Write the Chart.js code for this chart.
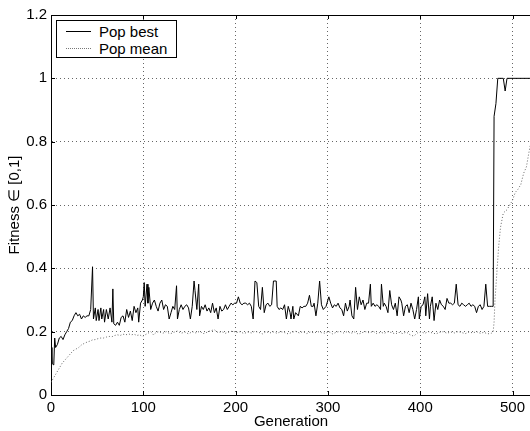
<!DOCTYPE html>
<html>
<head>
<meta charset="utf-8">
<title>Fitness per generation</title>
<script src="https://cdn.jsdelivr.net/npm/chart.js@4.4.1/dist/chart.umd.min.js"></script>
<style>
  html, body { margin: 0; padding: 0; overflow: hidden; background: #fff; }
  #wrap { position: relative; width: 541px; height: 431px; }
  #legend {
    position: absolute; left: 56px; top: 20px; width: 119px; height: 36px;
    border: 1px solid #000; background: #fff;
    font: 15px "Liberation Sans", Arial, sans-serif; color: #000;
  }
  .row { position: absolute; left: 0; height: 17px; line-height: 17px; }
  .row span { position: absolute; left: 42px; white-space: nowrap; }
  .row i { position: absolute; left: 9px; top: 8px; width: 25px; height: 0; }
  .solid { border-top: 1px solid #000; }
  .dots { border-top: 1px dotted #777; }
</style>
</head>
<body>
<div id="wrap">
  <canvas id="fitnessChart" width="541" height="431"></canvas>
  <div id="legend">
    <div class="row" style="top:2px"><i class="solid"></i><span>Pop best</span></div>
    <div class="row" style="top:19px"><i class="dots"></i><span>Pop mean</span></div>
  </div>
</div>
<script>
// tick positions
const xTicks = [0, 100, 200, 300, 400, 500];
const yTicks = [0, 0.2, 0.4, 0.6, 0.8, 1, 1.2];

// best individual per generation
const bestGen = [
  0, 1, 3, 4, 5, 7, 9, 11, 13, 15,
  17, 19, 21, 23, 25, 27, 29, 31, 33, 35,
  37, 39, 41, 43, 45, 46, 48, 49, 51, 52,
  54, 55, 57, 58, 60, 62, 64, 66, 67, 68,
  70, 72, 74, 76, 78, 80, 82, 84, 86, 88,
  90, 92, 94, 95, 97, 99, 100, 101, 102, 104,
  105, 106, 108, 110, 112, 114, 116, 118, 120, 122,
  124, 126, 128, 130, 132, 134, 136, 137, 139, 141,
  143, 145, 147, 149, 151, 153, 155, 156, 158, 160,
  161, 163, 165, 167, 169, 171, 173, 175, 177, 179,
  181, 183, 185, 187, 189, 191, 193, 195, 197, 199,
  201, 203, 205, 207, 209, 211, 213, 215, 217, 219,
  221, 223, 225, 227, 229, 231, 233, 235, 237, 239,
  241, 244, 245, 247, 249, 251, 253, 255, 257, 259,
  260, 262, 263, 265, 268, 270, 272, 274, 276, 278,
  280, 282, 284, 285, 287, 289, 291, 293, 295, 298,
  301, 303, 305, 307, 309, 311, 313, 315, 317, 319,
  321, 323, 324, 326, 328, 330, 332, 334, 336, 338,
  340, 342, 344, 346, 347, 349, 351, 353, 355, 357,
  358, 360, 361, 363, 365, 367, 369, 371, 373, 375,
  377, 379, 380, 382, 384, 386, 388, 390, 392, 394,
  396, 398, 399, 401, 403, 405, 406, 408, 410, 411,
  413, 415, 417, 419, 421, 423, 425, 427, 429, 431,
  433, 435, 437, 439, 441, 443, 445, 447, 449, 451,
  453, 455, 457, 459, 461, 463, 465, 467, 469, 471,
  473, 475, 477, 479, 480, 482, 484, 490, 492, 494,
  520
];
const bestFit = [
  0.15, 0.10, 0.095, 0.18, 0.15, 0.16, 0.18, 0.185, 0.175, 0.19,
  0.20, 0.21, 0.23, 0.235, 0.25, 0.26, 0.25, 0.255, 0.24, 0.25,
  0.245, 0.25, 0.25, 0.27, 0.405, 0.24, 0.275, 0.235, 0.27, 0.235,
  0.275, 0.24, 0.27, 0.23, 0.27, 0.24, 0.275, 0.23, 0.335, 0.225,
  0.22, 0.23, 0.22, 0.245, 0.25, 0.23, 0.27, 0.245, 0.265, 0.235,
  0.28, 0.26, 0.275, 0.23, 0.29, 0.30, 0.31, 0.355, 0.28, 0.35,
  0.29, 0.34, 0.27, 0.29, 0.30, 0.28, 0.265, 0.29, 0.30, 0.27,
  0.285, 0.28, 0.24, 0.26, 0.28, 0.27, 0.345, 0.24, 0.27, 0.285,
  0.27, 0.28, 0.285, 0.275, 0.24, 0.28, 0.36, 0.33, 0.27, 0.35,
  0.25, 0.28, 0.27, 0.285, 0.265, 0.275, 0.26, 0.29, 0.26, 0.275,
  0.24, 0.28, 0.265, 0.27, 0.285, 0.27, 0.28, 0.29, 0.285, 0.29,
  0.29, 0.31, 0.29, 0.285, 0.29, 0.29, 0.285, 0.29, 0.28, 0.24,
  0.36, 0.355, 0.28, 0.27, 0.34, 0.26, 0.285, 0.29, 0.28, 0.285,
  0.36, 0.36, 0.28, 0.27, 0.275, 0.27, 0.285, 0.24, 0.28, 0.26,
  0.24, 0.28, 0.24, 0.26, 0.25, 0.28, 0.275, 0.28, 0.28, 0.29,
  0.315, 0.28, 0.28, 0.29, 0.25, 0.29, 0.36, 0.285, 0.27, 0.28,
  0.31, 0.29, 0.275, 0.285, 0.28, 0.29, 0.275, 0.27, 0.25, 0.29,
  0.265, 0.28, 0.30, 0.25, 0.24, 0.34, 0.27, 0.31, 0.285, 0.30,
  0.27, 0.29, 0.29, 0.35, 0.28, 0.29, 0.28, 0.285, 0.28, 0.27,
  0.35, 0.28, 0.29, 0.28, 0.26, 0.33, 0.285, 0.27, 0.29, 0.25,
  0.31, 0.30, 0.29, 0.25, 0.28, 0.285, 0.26, 0.29, 0.27, 0.24,
  0.27, 0.31, 0.24, 0.28, 0.285, 0.31, 0.25, 0.32, 0.24, 0.28,
  0.31, 0.235, 0.29, 0.27, 0.30, 0.285, 0.28, 0.27, 0.305, 0.29,
  0.29, 0.285, 0.29, 0.35, 0.285, 0.28, 0.29, 0.285, 0.28, 0.285,
  0.29, 0.28, 0.285, 0.28, 0.26, 0.28, 0.285, 0.27, 0.28, 0.35,
  0.28, 0.28, 0.28, 0.28, 0.88, 0.92, 1.0, 1.0, 0.96, 1.0,
  1.0
];

// population mean per generation
const meanGen = [
  0, 3, 6, 9, 12, 15, 18, 21, 24, 27,
  30, 33, 36, 39, 42, 45, 48, 51, 54, 57,
  60, 63, 66, 69, 72, 75, 78, 81, 84, 87,
  90, 93, 96, 99, 102, 105, 108, 111, 114, 117,
  121, 125, 129, 133, 137, 141, 145, 149, 153, 157,
  161, 165, 169, 173, 177, 181, 185, 189, 193, 197,
  201, 205, 209, 213, 217, 221, 225, 229, 233, 237,
  241, 245, 249, 253, 257, 261, 265, 269, 273, 277,
  281, 285, 289, 293, 297, 301, 305, 309, 313, 317,
  321, 325, 329, 333, 337, 341, 345, 349, 353, 357,
  361, 365, 369, 373, 377, 381, 385, 389, 393, 397,
  401, 405, 409, 413, 417, 421, 425, 429, 433, 437,
  441, 445, 449, 453, 457, 461, 465, 469, 473, 477,
  479, 480, 481, 483, 485, 487, 490, 494, 497, 500,
  503, 506, 509, 512, 515, 518, 520
];
const meanFit = [
  0.04, 0.055, 0.07, 0.085, 0.10, 0.11, 0.12, 0.13, 0.14, 0.145,
  0.15, 0.158, 0.163, 0.167, 0.17, 0.174, 0.175, 0.178, 0.18, 0.18,
  0.183, 0.185, 0.184, 0.188, 0.19, 0.188, 0.192, 0.19, 0.193, 0.19,
  0.192, 0.188, 0.19, 0.185, 0.19, 0.195, 0.20, 0.19, 0.198, 0.20,
  0.195, 0.20, 0.193, 0.198, 0.202, 0.195, 0.199, 0.193, 0.2, 0.196,
  0.201, 0.194, 0.198, 0.203, 0.206, 0.197, 0.2, 0.195, 0.199, 0.202,
  0.197, 0.2, 0.194, 0.199, 0.196, 0.201, 0.198, 0.193, 0.2, 0.196,
  0.199, 0.195, 0.2, 0.197, 0.193, 0.198, 0.201, 0.196, 0.2, 0.194,
  0.199, 0.196, 0.2, 0.197, 0.195, 0.2, 0.193, 0.198, 0.201, 0.196,
  0.2, 0.195, 0.199, 0.192, 0.197, 0.2, 0.196, 0.201, 0.194, 0.198,
  0.195, 0.2, 0.197, 0.193, 0.198, 0.194, 0.199, 0.19, 0.186, 0.196,
  0.199, 0.195, 0.2, 0.196, 0.193, 0.198, 0.2, 0.195, 0.199, 0.196,
  0.2, 0.197, 0.194, 0.199, 0.196, 0.2, 0.195, 0.198, 0.193, 0.195,
  0.2, 0.23, 0.30, 0.385, 0.47, 0.53, 0.575, 0.585, 0.60, 0.615,
  0.64, 0.65, 0.665, 0.70, 0.72, 0.77, 0.80
];

const FONT = { family: '"Liberation Sans", Arial, Helvetica, sans-serif', size: 15 };

// top border of the box plus the small inward tick marks
const boxFrame = {
  id: 'boxFrame',
  afterDatasetsDraw(chart) {
    const { ctx, chartArea: a, scales: { x, y } } = chart;
    ctx.save();
    ctx.strokeStyle = '#000';
    ctx.lineWidth = 1;
    ctx.beginPath();
    ctx.moveTo(a.left, Math.round(a.top) + 0.5);
    ctx.lineTo(a.right + 20, Math.round(a.top) + 0.5);
    xTicks.forEach(v => {
      const px = Math.round(x.getPixelForValue(v)) + 0.5;
      ctx.moveTo(px, a.bottom); ctx.lineTo(px, a.bottom - 4);
      ctx.moveTo(px, a.top); ctx.lineTo(px, a.top + 4);
    });
    yTicks.forEach(v => {
      const py = Math.round(y.getPixelForValue(v)) + 0.5;
      ctx.moveTo(a.left, py); ctx.lineTo(a.left + 4, py);
    });
    ctx.stroke();
    ctx.restore();
  }
};

const ctx = document.getElementById('fitnessChart').getContext('2d');

new Chart(ctx, {
  type: 'line',
  data: {
    datasets: [
      {
        label: 'Pop best',
        data: bestGen.map((g, i) => ({ x: g, y: bestFit[i] })),
        borderColor: '#000',
        borderWidth: 1,
        pointRadius: 0,
        tension: 0
      },
      {
        label: 'Pop mean',
        data: meanGen.map((g, i) => ({ x: g, y: meanFit[i] })),
        borderColor: '#666',
        borderWidth: 1,
        borderDash: [1, 2],
        pointRadius: 0,
        tension: 0
      }
    ]
  },
  options: {
    responsive: false,
    animation: false,
    layout: { padding: { top: 15, right: 10, left: 0, bottom: 0 } },
    plugins: {
      legend: { display: false },
      tooltip: { enabled: false }
    },
    scales: {
      x: {
        type: 'linear',
        min: 0,
        max: 520,
        afterBuildTicks: s => { s.ticks = xTicks.map(v => ({ value: v })); },
        afterFit: s => { s.height = 36; },
        ticks: { color: '#000', font: FONT, padding: 4, maxRotation: 0 },
        grid: { color: '#666', drawTicks: false },
        border: { color: '#000', width: 1, dash: [1, 3] },
        title: { display: true, text: 'Generation', color: '#000', font: FONT, padding: { top: 0, bottom: 0 } }
      },
      y: {
        min: 0,
        max: 1.2,
        afterBuildTicks: s => { s.ticks = yTicks.map(v => ({ value: v })); },
        afterFit: s => { s.width = 51; },
        ticks: { color: '#000', font: FONT, padding: 4, callback: v => String(v) },
        grid: { color: '#666', drawTicks: false },
        border: { color: '#000', width: 1, dash: [1, 3] },
        title: { display: true, text: 'Fitness ∈ [0,1]', color: '#000', font: FONT, padding: { top: 6, bottom: 0 } }
      }
    }
  },
  plugins: [boxFrame]
});
</script>
</body>
</html>
